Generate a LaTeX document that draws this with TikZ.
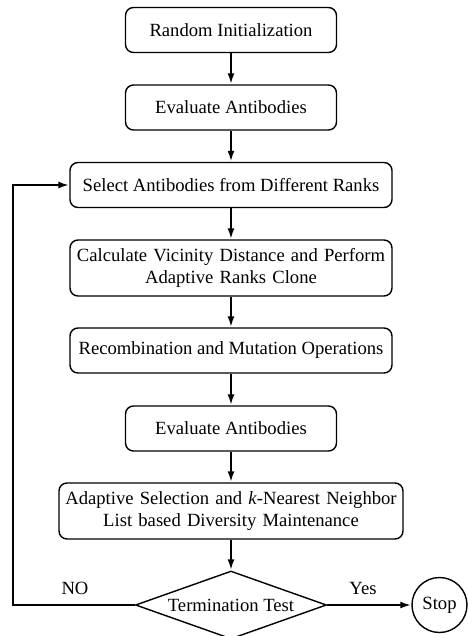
\documentclass[tikz,border=0pt]{standalone}
\usepackage{fontspec}
\setmainfont{Liberation Serif}
\usetikzlibrary{shapes.geometric,arrows.meta}

\begin{document}
\begin{tikzpicture}[node distance=1.55cm, font=\fontsize{10.6}{12.2}\selectfont]
    \tikzstyle{stepbox} = [rectangle, rounded corners=0.16cm, draw, line width=0.8pt, text centered, minimum height=0.9cm]
    \tikzstyle{decision} = [diamond, draw, line width=0.8pt, aspect=2.8, inner sep=0pt, minimum width=3.82cm, minimum height=1.36cm]
    \tikzstyle{terminal} = [circle, draw, line width=0.8pt, inner sep=0pt, minimum size=1.1cm]
    \tikzstyle{arrow} = [line width=1.2pt,->,>={Latex[length=2.2mm,width=1.4mm]}]

    \useasboundingbox (-4.62,0.6) rectangle (4.74,-12.12);

    \node[stepbox, minimum width=4.22cm] (init) {Random Initialization};
    \node[stepbox, minimum width=4.22cm, below of=init] (eval) {Evaluate Antibodies};
    \node[stepbox, minimum width=6.44cm, below of=eval] (select) {Select Antibodies from Different Ranks};
    \node[stepbox, minimum width=6.44cm, minimum height=1.12cm, text width=6.3cm, inner sep=1pt, below of=select, node distance=1.66cm] (clone) {Calculate Vicinity Distance and Perform\\Adaptive Ranks Clone};
    \node[stepbox, minimum width=6.44cm, below of=clone, node distance=1.65cm] (recomb) {Recombination and Mutation Operations};
    \node[stepbox, minimum width=4.22cm, below of=recomb, node distance=1.56cm] (evaltwo) {Evaluate Antibodies};
    \node[stepbox, minimum width=6.88cm, minimum height=1.12cm, text width=6.8cm, inner sep=1pt, below of=evaltwo, node distance=1.65cm] (adapt) {Adaptive Selection and \textit{k}-Nearest Neighbor\\List based Diversity Maintenance};
    \node[decision, below of=adapt, node distance=1.88cm] (test) {Termination Test};
    \node[terminal, right of=test, node distance=4.17cm] (stop) {Stop};

    \node (no) at (-3.12,-11.16) {NO};
    \node (yes) at (2.64,-11.16) {Yes};

    \draw[arrow] (init) -- (eval);
    \draw[arrow] (eval) -- (select);
    \draw[arrow] (select) -- (clone);
    \draw[arrow] (clone) -- (recomb);
    \draw[arrow] (recomb) -- (evaltwo);
    \draw[arrow] (evaltwo) -- (adapt);
    \draw[arrow] (adapt) -- (test);
    \draw[arrow] (test) -- (stop);
    \draw[arrow] (test.west) -- ++(-2.44,0) |- (select.west);
\end{tikzpicture}
\end{document}
